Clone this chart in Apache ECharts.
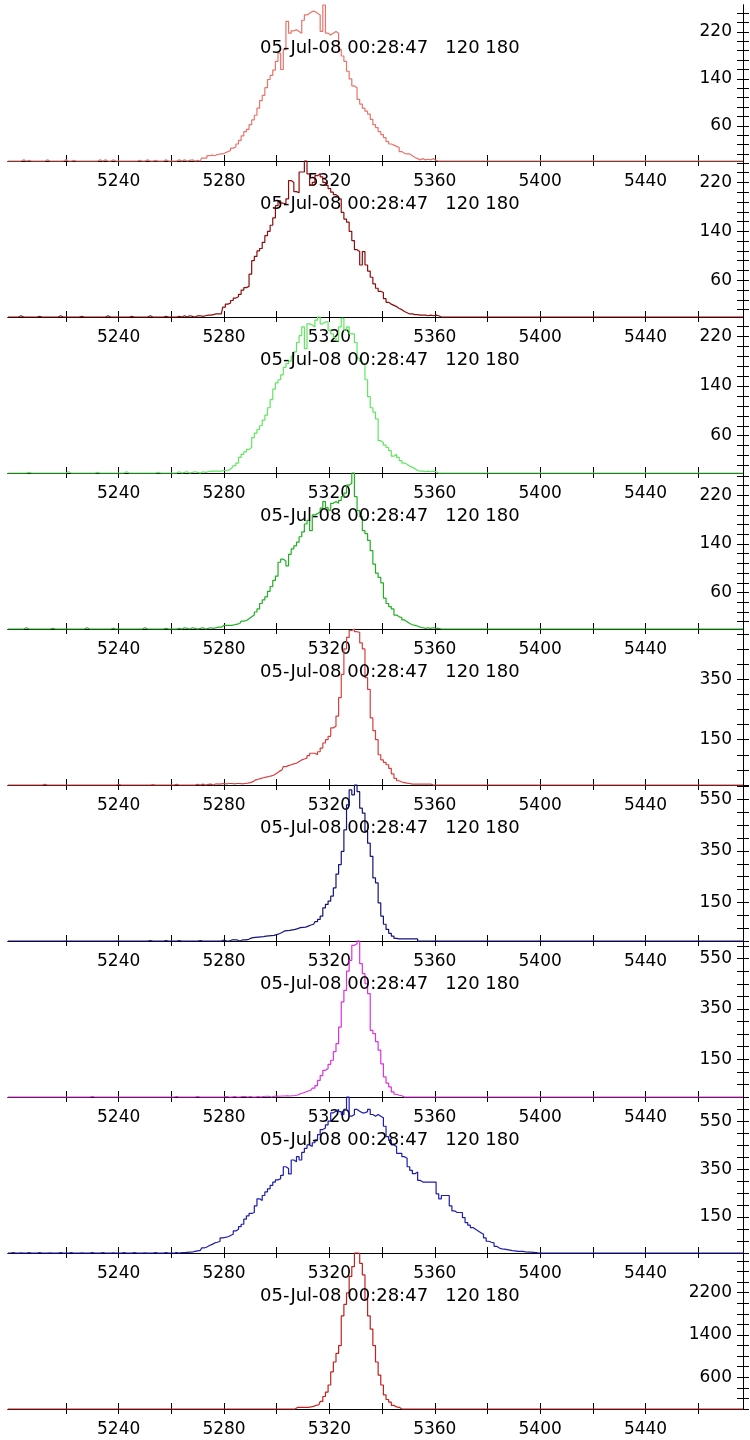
<!DOCTYPE html>
<html><head><meta charset="utf-8">
<script src="https://cdn.jsdelivr.net/npm/echarts@6/dist/echarts.min.js"></script>
<style>html,body{margin:0;padding:0;background:#fff}#c{width:750px;height:1440px}</style>
</head><body><div id="c"></div>
<script>
// ---- data ----
const titleText = '05-Jul-08 00:28:47   120 180';
const xMin = 5198, xMax = 5477;
const xTickValues = [5220,5240,5260,5280,5300,5320,5340,5360,5380,5400,5420,5440,5460];
const xLabelValues = [5240,5280,5320,5360,5400,5440];

const yLabelsA = [60,140,220];
const yLabelsB = [150,350,550];
const yLabelsC = [600,1400,2200];

const p1Start = 5262;
const p1Counts = [0,2,0,2,0,1,2,0,1,0, 5,5,9,10,9,11,12,12,
  14,16,18,22,24,29,35,43,50,54, 62,70,78,90,103,112,125,139,146,155,
  170,184,156,190,238,218,222,224,221,218, 240,249,252,255,255,252,249,221,266,218,
  215,218,221,218,190,179,170,153,140,128, 125,105,97,90,85,80,71,62,57,50,
  45,40,33,29,27,25,23,16,13,12, 12,9,6,4,2,4,2,3,2,4, 1];
const p1Noise = [[5204,2],[5206,1],[5213,2],[5220,2],[5223,1],[5233,2],[5235,2],[5238,2],[5248,1],[5251,2],[5254,1],[5258,2]];

const p2Start = 5262;
const p2Counts = [0,1,0,2,0,2,1,0,2,2,1,2, 3,3,4,5,5,5,
  16,21,23,27,31,33,37,44,48,50, 70,92,99,108,112,122,133,140,150,162,
  182,190,186,185,193,223,220,205,203,237, 237,255,234,215,220,231,234,229,220,215,
  210,204,200,197,193,171,160,155,140,125, 110,107,85,107,85,75,65,54,47,42,
  40,30,24,21,19,17,14,12,9,7, 5,5,4,4,3,3,3,2,3,2,3,2];
const p2Noise = [[5203,2],[5210,1],[5218,2],[5226,1],[5236,2],[5245,1],[5252,2],[5258,1]];

const p3Start = 5262;
const p3Counts = [0,2,0,1,2,0,1,2,1,0,2,1,2, 3,3,3,3,3,
  4,4,5,8,12,16,25,30,34,38, 41,57,64,70,76,85,93,105,118,135,
  145,150,158,170,176,180,188,195,210,221, 235,200,240,238,235,246,251,240,243,243,
  230,224,218,213,235,249,230,235,224,224, 210,185,180,175,150,123,105,98,87,52,
  49,45,41,36,27,30,25,20,16,14, 11,9,7,4,3,3,2,3,2,3,2];
const p3Noise = [[5206,1],[5221,2],[5232,1],[5243,2],[5255,1]];

const p4Start = 5262;
const p4Counts = [0,1,0,2,1,0,2,1,0,1,2,0,1,2,1,2, 3,3,
  6,6,6,6,7,8,9,13,14,17, 20,23,28,33,42,48,53,62,70,80,
  87,110,115,112,104,123,132,137,143,152, 160,173,179,162,188,190,193,199,210,200,
  196,207,210,207,212,218,224,237,240,257, 218,195,185,162,157,146,129,107,92,85,
  76,51,42,37,33,23,20,19,15,12, 9,7,6,5,3,2,1,2,1,2,1,1];
const p4Noise = [[5205,2],[5215,1],[5228,2],[5238,1],[5250,2],[5258,1]];

const p5Start = 5270;
const p5Counts = [2,0,3,0,2,3,0,4,3,4,
  5,4,5,5,4,5,5,4,5,6, 8,11,17,19,22,24,26,28,30,33,
  39,45,50,61,64,67,70,72,78,83, 86,89,97,105,105,100,110,122,139,150,
  161,189,194,228,289,366,450,488,511,516, 507,505,470,450,355,316,222,180,150,100,
  83,75,67,55,37,22,14,10,8,6, 5,3,3,3,3,3,3,3,3];
const p5Noise = [[5212,2],[5240,2],[5253,1],[5262,2]];

const p6Start = 5262;
const p6Counts = [0,2,0,0,0,0,0,0,0,2,0,0,0,0,0,0,0,0,
  4,0,0,4,4,4,0,4,4,5, 10,13,14,15,16,17,19,20,21,22,
  25,28,33,39,40,41,43,45,48,52, 53,54,58,62,65,75,84,97,129,142,
  155,174,206,260,297,348,432,529,587,568, 606,580,516,497,426,380,329,245,226,148,
  97,65,45,30,19,10,8,8,8,8, 8,8,8,8,0];
const p6Noise = [[5252,2],[5258,2]];

const p7Start = 5280;
const p7Counts = [0,2,0,0,2,0,0,2,2,0,2,0,0,2,0,2,3,3,0,3,
  4,3,4,4,5,4,5,6,8,13, 16,20,24,27,35,45,66,85,106,113,
  130,146,180,212,278,378,424,500,543,603, 609,620,530,490,450,411,265,252,220,186,
  132,80,55,40,20,11,7,5];
const p7Noise = [[5230,2],[5262,2],[5270,2]];

const p8Start = 5262;
const p8Counts = [2,0,2,2,3, 4,4,7,9,11,21,25,31,36,42,45,49,63,
  65,68,73,78,92,99,110,120,141,155, 165,169,197,226,219,240,255,268,282,296,
  305,310,324,360,353,330,388,381,402,388, 420,437,451,444,460,472,494,515,522,535,
  550,585,592,599,590,578,599,651,571,578, 599,592,585,585,590,599,578,571,578,571,
  564,529,486,470,451,444,416,416,402,395, 360,345,331,338,303,296,296,296,296,296,
  296,247,226,240,240,240,197,176,169,169, 169,148,127,116,106,99,92,85,78,63,
  49,45,42,28,21,17,16,14,12,10, 9,7,7,7,5,4,4,3,2];
const p8Noise = [[5200,2],[5203,1],[5206,2],[5210,2],[5214,1],[5218,2],[5222,2],[5226,1],[5230,2],[5234,2],[5238,1],[5242,2],[5246,2],[5250,1],[5254,2],[5258,2]];

const p9Start = 5306;
const p9Counts = [0,0,31,31,31,31,31,40,50,70,81,143,236,320,454,703,889,1050,1200,1760,1978,
  2195,2507,2693,2950,2942,2755,2538,2071,1760,1511,1200,889,640,454,267,180,130,68,40,31,0];
const p9Noise = [];

// ---- styling / layout ----
const panels = [
  {start:p1Start, counts:p1Counts, noise:p1Noise, color:'#e8746c', labels:yLabelsA, step:16},
  {start:p2Start, counts:p2Counts, noise:p2Noise, color:'#8e0c0c', labels:yLabelsA, step:16},
  {start:p3Start, counts:p3Counts, noise:p3Noise, color:'#5fe85f', labels:yLabelsA, step:16},
  {start:p4Start, counts:p4Counts, noise:p4Noise, color:'#22b022', labels:yLabelsA, step:16},
  {start:p5Start, counts:p5Counts, noise:p5Noise, color:'#d84040', labels:yLabelsB, step:50},
  {start:p6Start, counts:p6Counts, noise:p6Noise, color:'#14147c', labels:yLabelsB, step:50},
  {start:p7Start, counts:p7Counts, noise:p7Noise, color:'#dd33dd', labels:yLabelsB, step:50},
  {start:p8Start, counts:p8Counts, noise:p8Noise, color:'#1c1cb0', labels:yLabelsB, step:50},
  {start:p9Start, counts:p9Counts, noise:p9Noise, color:'#c42020', labels:yLabelsC, step:200}
];

const FONT = 'DejaVu Sans';
const panelH = 156, firstBase = 161, gridLeft = 8, gridRight = 743;
const plain = v => String(Math.round(v));

const grids = [], xAxes = [], yAxes = [], series = [], graphics = [];
panels.forEach((p, i) => {
  const base = firstBase + panelH * i;
  grids.push({left: gridLeft, width: gridRight - gridLeft, top: base - panelH, height: panelH});
  const ymax = Math.max(...p.counts);
  // minor ticks aligned with the first labelled value
  let t0 = p.labels[0];
  while (t0 - p.step >= 0) t0 -= p.step;
  const yTicks = [];
  for (let v = t0; v <= ymax; v += p.step) yTicks.push(v);
  const commonX = {type:'value', gridIndex:i, min:xMin, max:xMax, position:'bottom',
    splitLine:{show:false},
    axisLine:{show:true, onZero:false, lineStyle:{color:'#000', width:1}}};
  xAxes.push(Object.assign({}, commonX, {
    axisTick:{show:true, inside:true, length:6, customValues:xTickValues, lineStyle:{color:'#000'}},
    axisLabel:{show:true, customValues:xLabelValues, formatter:plain, margin:12, color:'#000', fontFamily:FONT, fontSize:17}
  }));
  xAxes.push(Object.assign({}, commonX, {
    axisTick:{show:true, inside:false, length:5, customValues:xTickValues, lineStyle:{color:'#000'}},
    axisLabel:{show:false}
  }));
  const commonY = {type:'value', gridIndex:i, min:0, max:ymax, position:'right',
    splitLine:{show:false},
    axisLine:{show:true, onZero:false, lineStyle:{color:'#000', width:1}}};
  yAxes.push(Object.assign({}, commonY, {
    axisTick:{show:true, inside:true, length:6, customValues:yTicks, lineStyle:{color:'#000'}},
    axisLabel:{show:true, inside:true, customValues:p.labels, formatter:plain, margin:11, color:'#000', fontFamily:FONT, fontSize:17}
  }));
  yAxes.push(Object.assign({}, commonY, {
    axisTick:{show:true, inside:false, length:6, customValues:yTicks, lineStyle:{color:'#000'}},
    axisLabel:{show:false}
  }));
  const noiseMap = {};
  p.noise.forEach(([b, c]) => { noiseMap[b] = c; });
  const data = [];
  for (let b = xMin; b <= xMax; b++) {
    let v = 0;
    const k = b - p.start;
    if (k >= 0 && k < p.counts.length) v = p.counts[k];
    else if (noiseMap[b] !== undefined) v = noiseMap[b];
    data.push([b, v]);
  }
  series.push({type:'line', xAxisIndex:2*i, yAxisIndex:2*i, data:data, step:'middle',
    showSymbol:false, clip:false, z:3,
    lineStyle:{color:p.color, width:1.2}, itemStyle:{color:p.color}});
  graphics.push({type:'text', left:260, top:base - 122, z:100,
    style:{text:titleText, font:'18px "' + FONT + '"', fill:'#000'}});
});

const chart = echarts.init(document.getElementById('c'), null, {renderer:'canvas'});
chart.setOption({
  animation:false,
  backgroundColor:'#fff',
  grid:grids, xAxis:xAxes, yAxis:yAxes, series:series, graphic:graphics
});
</script></body></html>
